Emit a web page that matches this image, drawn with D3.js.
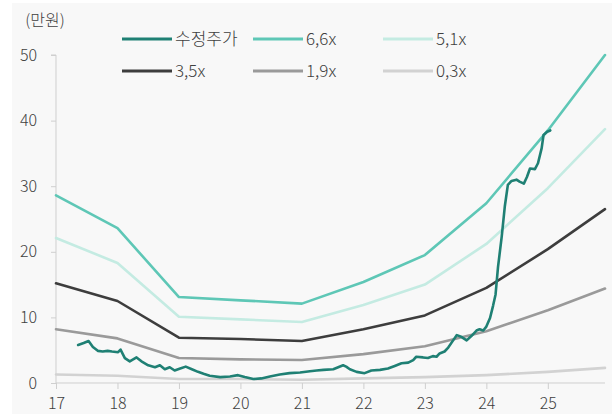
<!DOCTYPE html>
<html>
<head>
<meta charset="utf-8">
<script src="https://cdn.jsdelivr.net/npm/d3@7"></script>
<style>
  html, body { margin: 0; padding: 0; background: #ffffff; }
  svg { display: block; }
  text { font-family: "Noto Sans CJK KR", "Noto Sans", sans-serif; font-weight: 300; fill: #404040; }
</style>
</head>
<body>
<script>
// Year positions of the band points (year-start, two-digit years)
const bandYears = [17, 18, 19, 20, 21, 22, 23, 24, 25, 25.93];

// Valuation band lines (만원)
const band66 = [28.6, 23.6, 13.1, 12.6, 12.1, 15.4, 19.5, 27.4, 38.5, 50.0];
const band51 = [22.1, 18.3, 10.1, 9.7, 9.3, 11.9, 15.0, 21.2, 29.7, 38.7];
const band35 = [15.2, 12.5, 6.9, 6.7, 6.4, 8.2, 10.3, 14.5, 20.4, 26.5];
const band19 = [8.2, 6.8, 3.8, 3.6, 3.5, 4.4, 5.6, 7.9, 11.1, 14.4];
const band03 = [1.3, 1.1, 0.6, 0.6, 0.5, 0.7, 0.9, 1.2, 1.7, 2.3];

// Adjusted share price (수정주가), 만원
const priceYears = [
  17.36, 17.45, 17.53, 17.60, 17.68, 17.76, 17.84, 17.91, 18.01, 18.05,
  18.12, 18.20, 18.31, 18.39, 18.50, 18.61, 18.69, 18.77, 18.85, 18.93,
  19.02, 19.11, 19.21, 19.31, 19.40, 19.50, 19.67, 19.83, 19.96, 20.07,
  20.21, 20.34, 20.48, 20.64, 20.80, 20.97, 21.13, 21.24, 21.35, 21.51,
  21.59, 21.67, 21.72, 21.78, 21.89, 22.02, 22.13, 22.27, 22.40, 22.51,
  22.62, 22.73, 22.81, 22.86, 22.97, 23.05, 23.13, 23.19, 23.24, 23.32,
  23.38, 23.46, 23.52, 23.60, 23.68, 23.76, 23.84, 23.89, 23.95, 24.00,
  24.06, 24.11, 24.15, 24.19, 24.25, 24.30, 24.35, 24.41, 24.49, 24.54,
  24.61, 24.66, 24.71, 24.79, 24.84, 24.90, 24.93, 24.99, 25.04
];
const priceValues = [
  5.8, 6.1, 6.4, 5.5, 4.9, 4.8, 4.9, 4.8, 4.7, 5.1,
  3.8, 3.3, 3.9, 3.3, 2.7, 2.4, 2.7, 2.1, 2.4, 1.9,
  2.2, 2.5, 2.1, 1.7, 1.4, 1.1, 0.9, 1.0, 1.2, 0.9,
  0.6, 0.7, 1.0, 1.3, 1.5, 1.6, 1.8, 1.9, 2.0, 2.1,
  2.4, 2.7, 2.5, 2.1, 1.7, 1.5, 1.9, 2.0, 2.2, 2.6,
  3.0, 3.1, 3.5, 4.0, 3.9, 3.8, 4.1, 4.0, 4.5, 4.8,
  5.4, 6.5, 7.3, 7.0, 6.5, 7.2, 8.0, 8.2, 8.0, 8.6,
  9.9, 11.8, 13.5, 17.7, 22.3, 26.9, 30.2, 30.8, 31.0, 30.7,
  30.4, 31.4, 32.7, 32.6, 33.5, 35.8, 37.8, 38.3, 38.5
];

const xTickValues = [17, 18, 19, 20, 21, 22, 23, 24, 25];
const yTickValues = [0, 10, 20, 30, 40, 50];
const unitLabel = "(만원)";

const series = [
  { name: "수정주가", color: "#1f8074", width: 2.6, xs: priceYears, ys: priceValues },
  { name: "6,6x", color: "#5ec7b6", width: 2.6, xs: bandYears, ys: band66 },
  { name: "5,1x", color: "#c4ebe2", width: 2.6, xs: bandYears, ys: band51 },
  { name: "3,5x", color: "#3d3d3d", width: 2.6, xs: bandYears, ys: band35 },
  { name: "1,9x", color: "#9a9a9a", width: 2.6, xs: bandYears, ys: band19 },
  { name: "0,3x", color: "#d2d2d2", width: 2.6, xs: bandYears, ys: band03 }
];

const W = 612, H = 414;
const svg = d3.select("body").append("svg").attr("width", W).attr("height", H);

// soft grey panel behind the chart
svg.append("rect").attr("x", 12).attr("y", 3).attr("width", W - 12).attr("height", H - 3)
  .attr("fill", "#f8f8f8");

const x = d3.scaleLinear().domain([17, 25.93]).range([56, 605]);
const y = d3.scaleLinear().domain([0, 50]).range([383, 55]);

// y axis
const yAxis = svg.append("g").attr("transform", "translate(56,0)")
  .call(d3.axisLeft(y).tickValues(yTickValues).tickSize(5).tickPadding(14).tickFormat(d3.format("d")));
yAxis.select(".domain").attr("stroke", "#cfcfcf").attr("d", `M-5,${y(50)}H0V${y(0)}`);
yAxis.selectAll(".tick line").attr("stroke", "#cfcfcf");
yAxis.selectAll(".tick text").attr("font-size", 16).attr("fill", "#404040")
  .style("font-family", '"Noto Sans CJK KR", sans-serif').style("font-weight", 300);

// x axis
const xAxis = svg.append("g").attr("transform", `translate(0,${y(0)})`)
  .call(d3.axisBottom(x).tickValues(xTickValues).tickSize(6).tickPadding(9).tickFormat(d3.format("d")));
xAxis.select(".domain").attr("stroke", "#cfcfcf").attr("d", `M${x(17)},0H${x(25.93)}`);
xAxis.selectAll(".tick line").attr("stroke", "#cfcfcf");
xAxis.selectAll(".tick text").attr("font-size", 16).attr("fill", "#404040")
  .style("font-family", '"Noto Sans CJK KR", sans-serif').style("font-weight", 300);

// unit label
svg.append("text").attr("x", 45).attr("y", 26).attr("text-anchor", "middle")
  .attr("font-size", 16).text(unitLabel);

// lines: bands first, price on top
const line = d3.line().x(d => x(d[0])).y(d => y(d[1]));
const drawOrder = [5, 4, 3, 2, 1, 0];
drawOrder.forEach(i => {
  const s = series[i];
  const pts = s.xs.map((v, k) => [v, s.ys[k]]);
  svg.append("path").datum(pts).attr("d", line)
    .attr("fill", "none").attr("stroke", s.color).attr("stroke-width", s.width)
    .attr("stroke-linejoin", "round").attr("stroke-linecap", "round");
});

// legend (two rows of three)
const legendCols = [122, 253, 383];
const legendRows = [39, 71];
series.forEach((s, i) => {
  const lx = legendCols[i % 3], ly = legendRows[Math.floor(i / 3)];
  const g = svg.append("g").attr("transform", `translate(${lx},${ly})`);
  g.append("line").attr("x1", 0).attr("x2", 50).attr("y1", 0).attr("y2", 0)
    .attr("stroke", s.color).attr("stroke-width", 3);
  g.append("text").attr("x", 53).attr("y", 0).attr("dy", "0.35em")
    .attr("font-size", 17).text(s.name);
});
</script>
</body>
</html>
